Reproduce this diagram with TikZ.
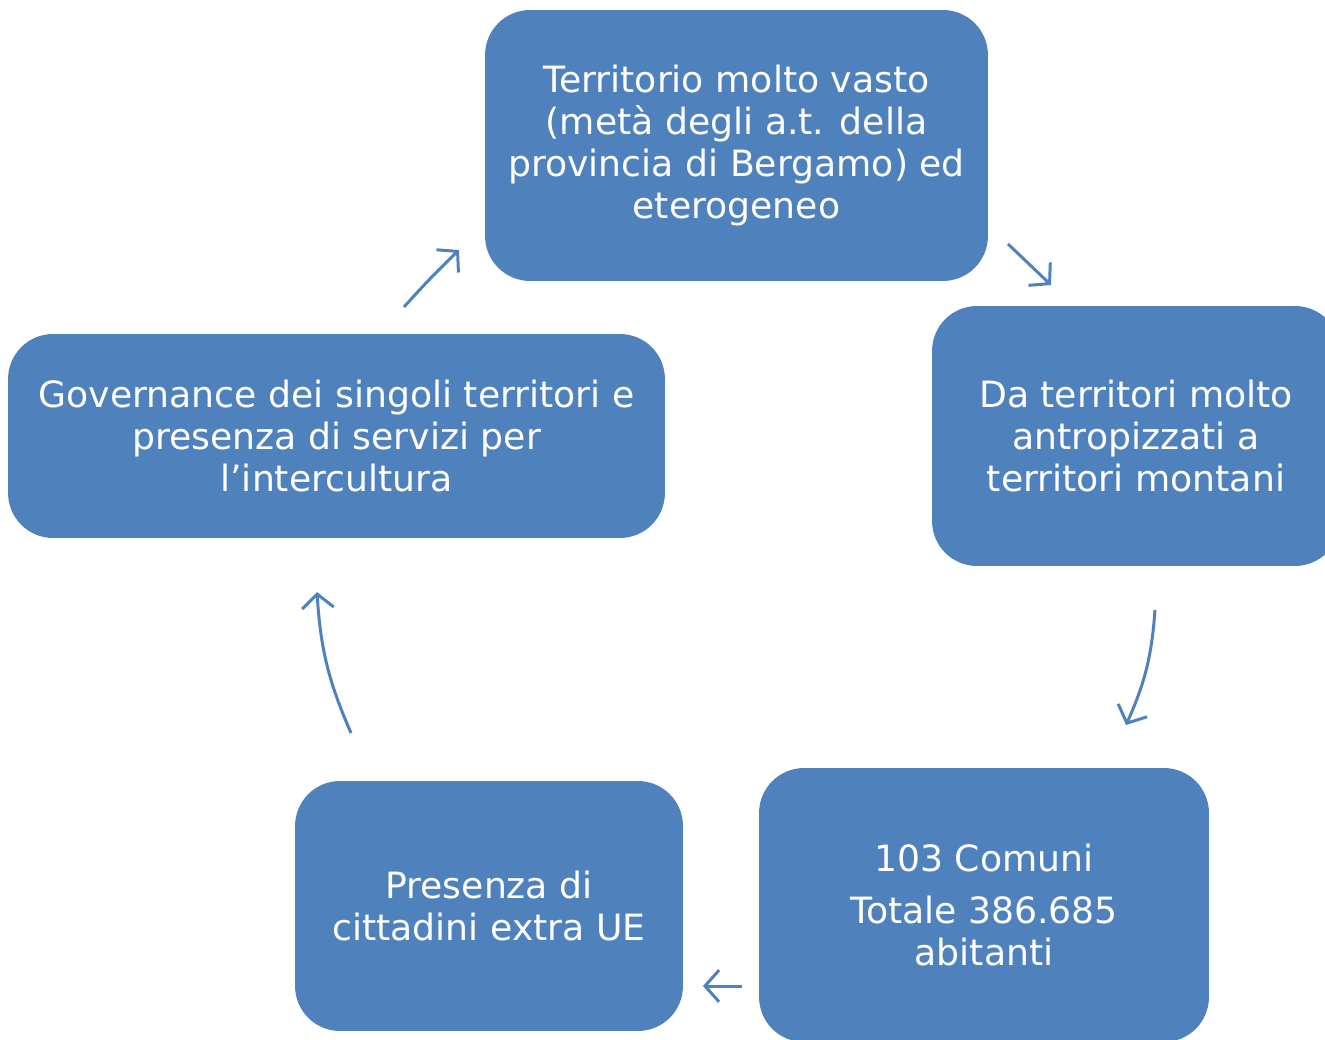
\documentclass[tikz,border=0pt]{standalone}
\usepackage{fontspec}
\setmainfont{DejaVu Sans}
\usetikzlibrary{arrows.meta}

\definecolor{boxblue}{HTML}{4F81BD}

\begin{document}
\begin{tikzpicture}[
  x=0.02cm, y=-0.02cm,
  every node/.style={font=\fontsize{20.6}{23.8}\selectfont},
  box/.style={fill=boxblue, text=white, rounded corners=0.9cm, align=center, inner sep=0pt},
  arrow/.style={-{Straight Barb[length=8pt, width=18pt]}, boxblue, line width=1.7pt},
  ]
\useasboundingbox (0,0) rectangle (1325,1040);

% Boxes
\node[box, minimum width=10.06cm, minimum height=5.42cm] (terr) at (736.5,145.5)
  {Territorio molto vasto\\(metà degli a.t. della\\provincia di Bergamo) ed\\eterogeneo};
\node[box, minimum width=8.16cm, minimum height=5.2cm] (antrop) at (1136,436)
  {Da territori molto\\antropizzati a\\territori montani};
\node[box, minimum width=9cm, minimum height=5.48cm] (comuni) at (984,905)
  {103 Comuni\\[0.3em]Totale 386.685\\abitanti};
\node[box, minimum width=7.76cm, minimum height=5cm] (extra) at (489,906)
  {Presenza di\\cittadini extra UE};
\node[box, minimum width=13.14cm, minimum height=4.08cm] (gov) at (336.5,436)
  {Governance dei singoli territori e\\presenza di servizi per\\l’intercultura};

% Arrow ends
\coordinate (a1) at (1008,244);
\coordinate (b1) at (1051,285);
\coordinate (a2) at (1155,610);
\coordinate (b2) at (1126,725);
\coordinate (a3) at (742,986);
\coordinate (b3) at (703,986);
\coordinate (a4) at (351,733);
\coordinate (b4) at (317,592);
\coordinate (a5) at (404,307);
\coordinate (b5) at (459,250);

% Arrows
\draw[arrow] (a1) -- (b1);
\draw[arrow] (a2) to[bend left=10] (b2);
\draw[arrow] (a3) -- (b3);
\draw[arrow] (a4) to[bend left=10] (b4);
\draw[arrow] (a5) to[bend left=2] (b5);

\end{tikzpicture}
\end{document}
